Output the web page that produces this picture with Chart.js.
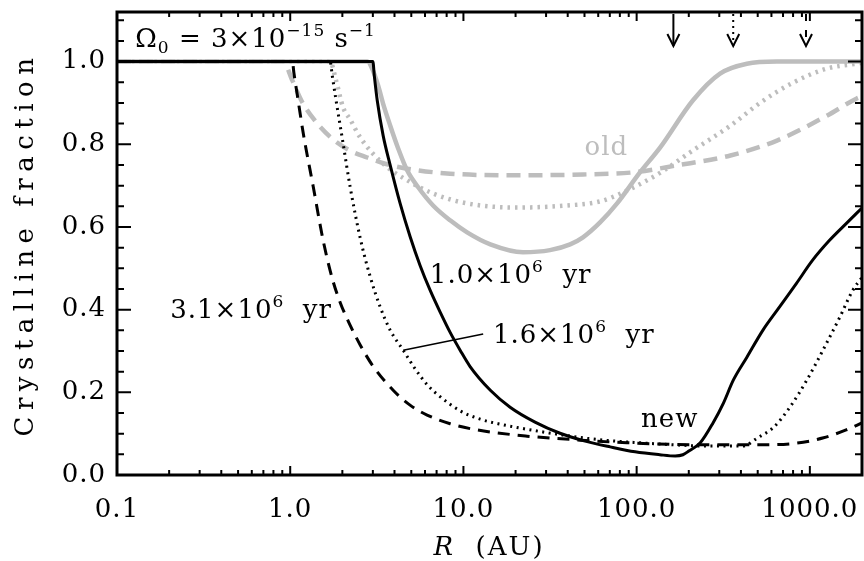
<!DOCTYPE html>
<html>
<head>
<meta charset="utf-8">
<script src="https://cdn.jsdelivr.net/npm/chart.js@4.4.1/dist/chart.umd.min.js"></script>
<style>
  html, body { margin: 0; padding: 0; background: #fff; }
</style>
</head>
<body>
<canvas id="chartContainer" width="864" height="561"></canvas>
<script>
"use strict";

// 1: data
const xTickValues = [0.1, 1, 10, 100, 1000];
const xTickLabels = ['0.1', '1.0', '10.0', '100.0', '1000.0'];
const yTickValues = [0, 0.2, 0.4, 0.6, 0.8, 1.0];
const yTickLabels = ['0.0', '0.2', '0.4', '0.6', '0.8', '1.0'];

// new model, 1.0e6 yr (solid)
const rNew1 = [0.1, 1, 2, 3.0, 3.06, 3.18, 3.44, 3.78, 4.31, 4.92, 5.62, 6.42, 7.34, 8.38, 9.57, 10.9, 14.3, 18.6, 25.9, 36.1, 50.4, 70.3, 98, 136, 167, 185, 200, 233, 276, 317, 362, 433, 535, 667, 835, 1035, 1295, 1620, 2000];
const fNew1 = [1, 1, 1, 1, 0.965, 0.906, 0.821, 0.749, 0.657, 0.577, 0.507, 0.447, 0.394, 0.345, 0.302, 0.263, 0.205, 0.164, 0.128, 0.101, 0.082, 0.068, 0.056, 0.049, 0.046, 0.049, 0.058, 0.078, 0.126, 0.174, 0.23, 0.285, 0.35, 0.406, 0.463, 0.519, 0.567, 0.608, 0.646];
// new model, 1.6e6 yr (dotted)
const rNew2 = [0.1, 1, 1.7, 1.75, 1.84, 2.02, 2.22, 2.54, 2.89, 3.31, 3.78, 4.49, 5.28, 6.19, 7.36, 9.6, 12.5, 16.3, 28.9, 56, 136, 265, 410, 500, 620, 767, 962, 1190, 1490, 1770, 2000];
const fNew2 = [1, 1, 1, 0.965, 0.906, 0.802, 0.696, 0.572, 0.481, 0.406, 0.35, 0.302, 0.256, 0.218, 0.189, 0.155, 0.135, 0.123, 0.104, 0.087, 0.075, 0.07, 0.07, 0.09, 0.116, 0.164, 0.23, 0.302, 0.382, 0.447, 0.478];
// new model, 3.1e6 yr (dashed)
const rNew3 = [0.1, 1.03, 1.05, 1.1, 1.19, 1.36, 1.55, 1.75, 1.94, 2.22, 2.54, 3.01, 3.93, 4.92, 6.17, 8.38, 12, 23.3, 45.3, 88, 232, 515, 835, 1200, 1620, 2000];
const fNew3 = [1, 1, 0.973, 0.918, 0.826, 0.696, 0.567, 0.475, 0.418, 0.362, 0.314, 0.263, 0.205, 0.169, 0.145, 0.124, 0.109, 0.094, 0.085, 0.078, 0.073, 0.073, 0.077, 0.09, 0.109, 0.126];

// old model, 1.0e6 yr (grey solid)
const rOld1 = [0.1, 1, 2.79, 2.97, 3.22, 3.44, 3.78, 4.2, 4.73, 5.48, 6.68, 8.38, 10.5, 14.3, 22.1, 31.6, 41.3, 49, 61.5, 77.1, 104.5, 136.5, 211, 303, 433, 646, 1000, 2000];
const fOld1 = [1, 1, 1, 0.983, 0.942, 0.898, 0.845, 0.79, 0.737, 0.696, 0.652, 0.616, 0.587, 0.558, 0.539, 0.544, 0.558, 0.575, 0.611, 0.657, 0.732, 0.792, 0.906, 0.971, 0.995, 1, 1, 1];
// old model, 1.6e6 yr (grey dotted)
const rOld2 = [0.1, 1, 1.7, 1.84, 2.02, 2.22, 2.54, 3.44, 4.73, 6.68, 10.5, 20.4, 39.7, 61.5, 88, 136.5, 211, 348, 515, 799, 1253, 1866, 2000];
const fOld2 = [1, 1, 1, 0.954, 0.889, 0.86, 0.816, 0.753, 0.713, 0.681, 0.657, 0.647, 0.652, 0.662, 0.688, 0.731, 0.785, 0.845, 0.9, 0.949, 0.983, 0.995, 0.997];
// old model, 3.1e6 yr (grey dashed)
const rOld3 = [0.1, 0.91, 1.03, 1.17, 1.39, 1.72, 2.16, 2.78, 3.53, 4.73, 8.38, 20.4, 49, 95, 171, 348, 646, 1253, 1866, 2000];
const fOld3 = [1, 1, 0.954, 0.903, 0.857, 0.816, 0.787, 0.768, 0.753, 0.741, 0.729, 0.725, 0.727, 0.732, 0.749, 0.773, 0.809, 0.869, 0.911, 0.916];

// radii marked by the arrows along the top axis
const arrowR = [163, 361, 950];

const GREY = '#bdbdbd';
const FONT = '"DejaVu Serif", serif';

// 2: prepare data for chart
function toPoints(r, f) {
  let pts = [];
  for (let i = 0; i < r.length; i++) {
    pts.push({ x: r[i], y: f[i] });
  }
  return pts;
}

function line(r, f, color, width, dash, order) {
  return {
    data: toPoints(r, f),
    showLine: true,
    borderColor: color,
    borderWidth: width,
    borderDash: dash,
    pointRadius: 0,
    cubicInterpolationMode: 'monotone',
    fill: false,
    order: order
  };
}

// text labels: parts are [text, kind] with kind '' | 'sup' | 'sub'
const labels = [
  { r: 0.1275, f: 1.036, color: '#000', parts: [['\u03A9', ''], ['0', 'sub'], [' = 3\u00D710', ''], ['\u221215', 'sup'], [' s', ''], ['\u22121', 'sup']] },
  { r: 50, f: 0.773, color: GREY, parts: [['old', '']] },
  { r: 6.4, f: 0.464, color: '#000', parts: [['1.0\u00D710', ''], ['6', 'sup'], ['  yr', '']] },
  { r: 0.203, f: 0.379, color: '#000', parts: [['3.1\u00D710', ''], ['6', 'sup'], ['  yr', '']] },
  { r: 14.8, f: 0.319, color: '#000', parts: [['1.6\u00D710', ''], ['6', 'sup'], ['  yr', '']] },
  { r: 106, f: 0.116, color: '#000', parts: [['new', '']] }
];

function drawParts(ctx, parts, x, y) {
  for (const p of parts) {
    const small = p[1] !== '';
    ctx.font = (small ? 17 : 26) + 'px ' + FONT;
    let dy = 0;
    if (p[1] === 'sup') dy = -11;
    if (p[1] === 'sub') dy = 6;
    ctx.fillText(p[0], x, y + dy);
    x += ctx.measureText(p[0]).width;
  }
}

// 3: frame, inward ticks, arrows and labels (IDL style)
const idlFrame = {
  id: 'idlFrame',
  beforeDraw(chart) {
    chart.ctx.letterSpacing = '1px';
  },
  afterDraw(chart) {
    const ctx = chart.ctx;
    const a = chart.chartArea;
    const xs = chart.scales.x;
    const ys = chart.scales.y;
    ctx.save();
    ctx.strokeStyle = '#000';
    ctx.fillStyle = '#000';

    // ticks
    ctx.lineWidth = 2;
    ctx.beginPath();
    for (let e = -1; e <= 3; e++) {
      for (let m = 1; m <= 9; m++) {
        const v = m * Math.pow(10, e);
        if (v > 2000) continue;
        const px = xs.getPixelForValue(v);
        const len = m === 1 ? 9 : 5;
        ctx.moveTo(px, a.bottom); ctx.lineTo(px, a.bottom - len);
        ctx.moveTo(px, a.top); ctx.lineTo(px, a.top + len);
      }
    }
    for (let k = 0; k <= 22; k++) {
      const py = ys.getPixelForValue(k * 0.05);
      const len = k % 4 === 0 ? 14 : 7;
      ctx.moveTo(a.left, py); ctx.lineTo(a.left + len, py);
      ctx.moveTo(a.right, py); ctx.lineTo(a.right - len, py);
    }
    ctx.stroke();

    // frame
    ctx.lineWidth = 3;
    ctx.strokeRect(a.left, a.top, a.right - a.left, a.bottom - a.top);

    // arrows
    const arrowDash = [[], [2, 4], [7, 9]];
    ctx.lineWidth = 2;
    arrowR.forEach((r, i) => {
      const px = xs.getPixelForValue(r);
      const tip = a.top + 34;
      ctx.setLineDash(arrowDash[i]);
      ctx.beginPath();
      ctx.moveTo(px, a.top + 2); ctx.lineTo(px, tip);
      ctx.stroke();
      ctx.setLineDash([]);
      ctx.beginPath();
      ctx.moveTo(px - 6, tip - 12); ctx.lineTo(px, tip); ctx.lineTo(px + 6, tip - 12);
      ctx.stroke();
    });

    // leader line to the 1.6e6 yr curve
    ctx.lineWidth = 1.5;
    ctx.beginPath();
    ctx.moveTo(xs.getPixelForValue(4.49), ys.getPixelForValue(0.302));
    ctx.lineTo(xs.getPixelForValue(13.0), ys.getPixelForValue(0.341));
    ctx.stroke();

    // labels
    ctx.textBaseline = 'alphabetic';
    ctx.textAlign = 'left';
    ctx.letterSpacing = '1px';
    for (const l of labels) {
      ctx.fillStyle = l.color;
      drawParts(ctx, l.parts, xs.getPixelForValue(l.r), ys.getPixelForValue(l.f));
    }

    // axis titles
    ctx.fillStyle = '#000';
    ctx.save();
    ctx.translate(33, 244);
    ctx.rotate(-Math.PI / 2);
    ctx.textAlign = 'center';
    ctx.letterSpacing = '6.5px';
    ctx.font = '26px ' + FONT;
    ctx.fillText('Crystalline fraction', 0, 0);
    ctx.restore();

    ctx.letterSpacing = '2px';
    ctx.font = 'italic 26px ' + FONT;
    const wR = ctx.measureText('R').width;
    ctx.font = '26px ' + FONT;
    const wAU = ctx.measureText('  (AU)').width;
    let tx = 489 - (wR + wAU) / 2;
    ctx.font = 'italic 26px ' + FONT;
    ctx.fillText('R', tx, 555);
    ctx.font = '26px ' + FONT;
    ctx.fillText('  (AU)', tx + wR, 555);

    ctx.restore();
  }
};

// 4: create the chart
Chart.defaults.font.family = FONT;
Chart.defaults.font.size = 26;
Chart.defaults.color = '#000';

function noPad(s) {
  s.paddingLeft = 0;
  s.paddingRight = 0;
  s.paddingTop = 0;
  s.paddingBottom = 0;
}

const chart = new Chart(document.getElementById('chartContainer'), {
  type: 'scatter',
  data: {
    datasets: [
      line(rNew1, fNew1, '#000', 3, [], 1),
      line(rNew2, fNew2, '#000', 3, [2, 4.5], 2),
      line(rNew3, fNew3, '#000', 3, [12, 8], 3),
      line(rOld1, fOld1, GREY, 4.5, [], 4),
      line(rOld2, fOld2, GREY, 4.5, [2.5, 5], 5),
      line(rOld3, fOld3, GREY, 4.5, [14, 8], 6)
    ]
  },
  options: {
    responsive: false,
    animation: false,
    devicePixelRatio: 1,
    layout: { padding: { top: 12, right: 2, left: 0, bottom: 0 } },
    plugins: { legend: { display: false }, tooltip: { enabled: false } },
    scales: {
      x: {
        type: 'logarithmic',
        min: 0.1,
        max: 2000,
        afterBuildTicks: s => { s.ticks = xTickValues.map(v => ({ value: v })); },
        afterFit: s => { s.height = 86; noPad(s); },
        ticks: {
          callback: (v, i) => xTickLabels[i],
          autoSkip: false,
          maxRotation: 0,
          padding: 20
        },
        grid: { display: false, drawTicks: false },
        border: { display: false }
      },
      y: {
        type: 'linear',
        min: 0,
        max: 1.12,
        afterBuildTicks: s => { s.ticks = yTickValues.map(v => ({ value: v })); },
        afterFit: s => { s.width = 117; noPad(s); },
        ticks: {
          callback: (v, i) => yTickLabels[i],
          padding: 11
        },
        grid: { display: false, drawTicks: false },
        border: { display: false }
      }
    }
  },
  plugins: [idlFrame]
});
</script>
</body>
</html>
